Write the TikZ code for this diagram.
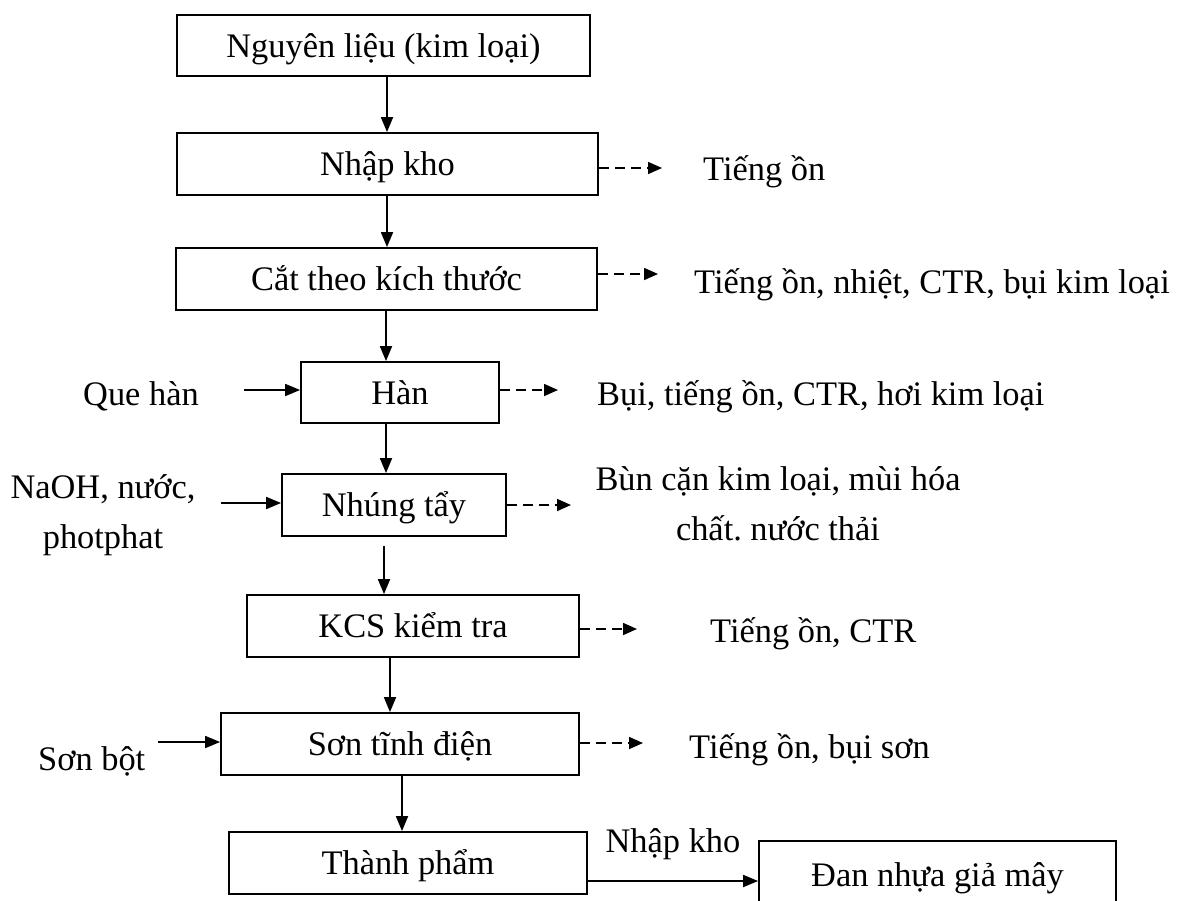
\documentclass[tikz,border=0pt]{standalone}
\usepackage{fontspec}
\setmainfont{Liberation Serif}
\usetikzlibrary{arrows.meta}
\begin{document}
\frenchspacing
\begin{tikzpicture}[x=1pt,y=-1pt,
  font=\fontsize{34.4}{50}\selectfont,
  procbox/.style={draw, line width=1.8pt, inner sep=0pt, text height=27.5pt, text depth=4.5pt},
  flow/.style={line width=1.8pt, -{Triangle[length=15pt,width=12pt]}},
  emit/.style={line width=1.6pt, dash pattern=on 10pt off 6pt, -{Triangle[length=14pt,width=12pt]}},
  lbl/.style={inner sep=0pt}]
\useasboundingbox (0,0) rectangle (1177,900);
\clip (0,0) rectangle (1177,900);

% process steps
\node[procbox, minimum width=413pt, minimum height=61pt] (n1) at (383.5,45.5) {Nguyên liệu (kim loại)};
\node[procbox, minimum width=421pt, minimum height=62pt] (n2) at (387.5,164) {Nhập kho};
\node[procbox, minimum width=421pt, minimum height=62pt] (n3) at (386.5,279) {Cắt theo kích thước};
\node[procbox, minimum width=198pt, minimum height=61pt] (n4) at (400,392.5) {Hàn};
\node[procbox, minimum width=224pt, minimum height=62pt] (n5) at (394,505) {Nhúng tẩy};
\node[procbox, minimum width=332pt, minimum height=62pt] (n6) at (413,626) {KCS kiểm tra};
\node[procbox, minimum width=358pt, minimum height=62pt] (n7) at (400,744) {Sơn tĩnh điện};
\node[procbox, minimum width=358pt, minimum height=62pt] (n8) at (408,863) {Thành phẩm};
\node[procbox, minimum width=357pt, minimum height=68pt] (n9) at (937.5,875) {Đan nhựa giả mây};

% columns of the downward flow
\coordinate (c1) at (387,0);
\coordinate (c2) at (387,0);
\coordinate (c3) at (386,0);
\coordinate (c4) at (386,0);
\coordinate (c5) at (384,0);
\coordinate (c6) at (390,0);
\coordinate (c7) at (402,0);

\draw[flow] (n1.south -| c1) -- (n2.north -| c1);
\draw[flow] (n2.south -| c2) -- (n3.north -| c2);
\draw[flow] (n3.south -| c3) -- (n4.north -| c3);
\draw[flow] (n4.south -| c4) -- (n5.north -| c4);
\draw[flow] ([yshift=-9pt]n5.south -| c5) -- (n6.north -| c5);
\draw[flow] (n6.south -| c6) -- (n7.north -| c6);
\draw[flow] (n7.south -| c7) -- (n8.north -| c7);

% to storage
\coordinate (h8) at (0,881);
\draw[flow] (n8.east |- h8) -- (n9.west |- h8);
\node[lbl, anchor=base] (tk) at (673,852) {Nhập kho};

% inputs
\node[lbl, anchor=base west] (i4) at (83,405) {Que hàn};
\node[lbl, anchor=base, align=center] (i5) at (103,548) {NaOH, nước,\\photphat};
\node[lbl, anchor=base west] (i7) at (38,770) {Sơn bột};
\coordinate (a4) at (244,390);
\coordinate (a5) at (221,503);
\coordinate (a7) at (158,742);
\draw[flow] (a4) -- (a4 -| n4.west);
\draw[flow] (a5) -- (a5 -| n5.west);
\draw[flow] (a7) -- (a7 -| n7.west);

% emissions
\coordinate (d2) at (662,168);
\coordinate (d3) at (658,274);
\coordinate (d4) at (558,390);
\coordinate (d5) at (571,505);
\coordinate (d6) at (637,629);
\coordinate (d7) at (643,743);
\draw[emit] (n2.east |- d2) -- (d2);
\draw[emit] (n3.east |- d3) -- (d3);
\draw[emit] (n4.east |- d4) -- (d4);
\draw[emit] (n5.east |- d5) -- (d5);
\draw[emit] (n6.east |- d6) -- (d6);
\draw[emit] (n7.east |- d7) -- (d7);

\node[lbl, anchor=base west] (t2) at (703,180) {Tiếng ồn};
\node[lbl, anchor=base west] (t3) at (694,293) {Tiếng ồn, nhiệt, CTR, bụi kim loại};
\node[lbl, anchor=base west] (t4) at (597,405) {Bụi, tiếng ồn, CTR, hơi kim loại};
\node[lbl, anchor=base, align=center] (t5) at (778,540) {Bùn cặn kim loại, mùi hóa\\chất. nước thải};
\node[lbl, anchor=base west] (t6) at (710,642) {Tiếng ồn, CTR};
\node[lbl, anchor=base west] (t7) at (689,758) {Tiếng ồn, bụi sơn};
\end{tikzpicture}
\end{document}
